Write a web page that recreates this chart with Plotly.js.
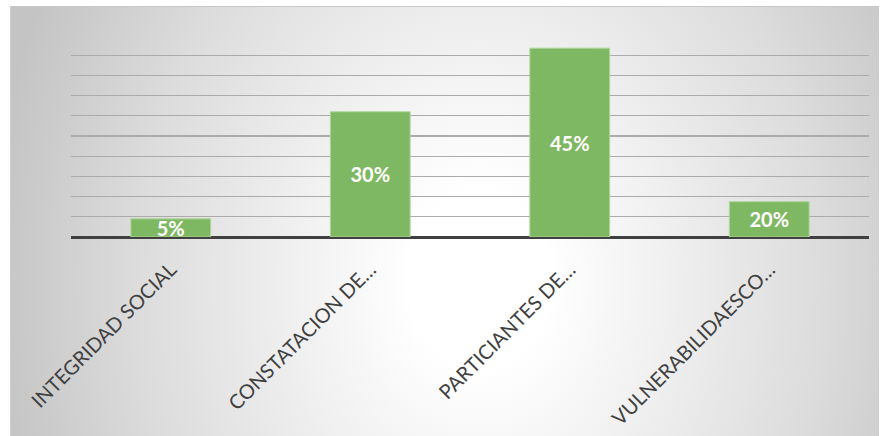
<!DOCTYPE html>
<html>
<head>
<meta charset="utf-8">
<script src="https://cdn.plot.ly/plotly-3.0.1.min.js"></script>
<style>
  html, body { margin: 0; padding: 0; background: #ffffff; }
  #bg {
    position: absolute; left: 10px; top: 6px; width: 868px; height: 440px;
    background: radial-gradient(ellipse 490px 620px at 54% 62%, #ffffff 0%, #ffffff 14%, #f2f2f2 35%, #dcdcdc 70%, #c4c4c4 100%);
    border-top: 1px solid #c8c8c8; border-left: 1px solid #cfcfcf;
  }
  #chart { position: absolute; left: 0; top: 0; width: 887px; height: 436px; }
</style>
</head>
<body>
<div id="bg"></div>
<div id="chart"></div>
<script>
// Category names (as shown, truncated like the original)
const categories = ["INTEGRIDAD SOCIAL", "CONSTATACION DE…", "PARTICIANTES DE…", "VULNERABILIDAESCO…"];
// Bar heights (in gridline units, 0–10)
const barValues = [0.9, 6.2, 9.35, 1.75];
// Data labels printed on the bars
const barLabels = ["5%", "30%", "45%", "20%"];

const trace = {
  type: "bar",
  x: categories,
  y: barValues,
  text: barLabels,
  textposition: "inside",
  insidetextanchor: "middle",
  textangle: 0,
  constraintext: "none",
  cliponaxis: false,
  textfont: { family: "Lato, 'Open Sans', sans-serif", size: 20, color: "#ffffff", weight: "bold" },
  marker: { color: "rgb(127,184,98)", line: { color: "rgb(176,214,156)", width: 1 } },
  width: 0.4,
  hoverinfo: "none"
};

const layout = {
  width: 887, height: 436, autosize: false,
  margin: { l: 71, r: 18, t: 35, b: 199, pad: 0 },
  paper_bgcolor: "rgba(0,0,0,0)",
  plot_bgcolor: "rgba(0,0,0,0)",
  showlegend: false,
  bargap: 0.6,
  xaxis: {
    type: "category",
    tickangle: -45,
    automargin: false,
    showgrid: false, showline: false, zeroline: false,
    ticks: "outside", ticklen: 12, tickcolor: "rgba(0,0,0,0)",
    tickfont: { family: "Lato, 'Open Sans', sans-serif", size: 20, color: "#404040" }
  },
  yaxis: {
    range: [0, 10],
    dtick: 1,
    showticklabels: false,
    ticks: "",
    showgrid: true, gridcolor: "#ababab", gridwidth: 1.3,
    zeroline: true, zerolinecolor: "#404040", zerolinewidth: 3,
    showline: false,
    automargin: false
  }
};

Plotly.newPlot("chart", [trace], layout, { displayModeBar: false, staticPlot: true });
</script>
</body>
</html>
